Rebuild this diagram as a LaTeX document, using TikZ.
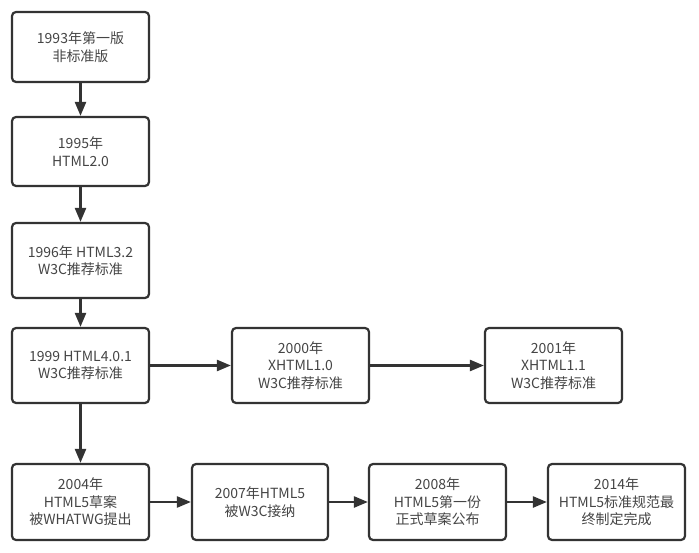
\documentclass[tikz,border=0pt]{standalone}
\usepackage{fontspec}
\setmainfont{Noto Sans CJK SC}
\usetikzlibrary{arrows.meta}
\definecolor{boxline}{HTML}{333333}
\definecolor{boxtext}{HTML}{454545}
\begin{document}
\begin{tikzpicture}[
        x=1pt, y=-1pt,
        every node/.style={font=\fontsize{14}{17.5}\selectfont, text=boxtext},
        stage/.style={draw=boxline, line width=2.2pt, rounded corners=4pt,
            fill=white, align=center, inner sep=0pt,
            minimum width=137pt, minimum height=75pt},
        flow/.style={draw=boxline, line width=2.4pt,
            -{Triangle[length=14pt, width=11pt]}}
    ]
    \useasboundingbox (0,0) rectangle (699,553);
    % left column
    \node[stage, minimum height=70pt] (v1993) at (80.5,47) {1993年第一版\\非标准版};
    \node[stage, minimum height=69pt] (v1995) at (80.5,151.5) {1995年\\HTML2.0};
    \node[stage] (v1996) at (80.5,260.5) {1996年 HTML3.2\\W3C推荐标准};
    \node[stage] (v1999) at (80.5,365.5) {1999 HTML4.0.1\\W3C推荐标准};
    % xhtml row
    \node[stage] (v2000) at (300.5,365.5) {2000年\\XHTML1.0\\W3C推荐标准};
    \node[stage] (v2001) at (553.5,365.5) {2001年\\XHTML1.1\\W3C推荐标准};
    % html5 row
    \node[stage, minimum height=76pt] (v2004) at (80.5,502) {2004年\\HTML5草案\\被WHATWG提出};
    \node[stage, minimum height=76pt, minimum width=136pt] (v2007) at (260,502) {2007年HTML5\\被W3C接纳};
    \node[stage, minimum height=76pt] (v2008) at (437.5,502) {2008年\\HTML5第一份\\正式草案公布};
    \node[stage, minimum height=76pt] (v2014) at (616.5,502) {2014年\\HTML5标准规范最\\终制定完成};

    \draw[flow] (v1993) -- (v1995);
    \draw[flow] (v1995) -- (v1996);
    \draw[flow] (v1996) -- (v1999);
    \draw[flow] (v1999) -- (v2000);
    \draw[flow] (v2000) -- (v2001);
    \draw[flow] (v1999) -- (v2004);
    \draw[flow] (v2004) -- (v2007);
    \draw[flow] (v2007) -- (v2008);
    \draw[flow] (v2008) -- (v2014);
\end{tikzpicture}
\end{document}
